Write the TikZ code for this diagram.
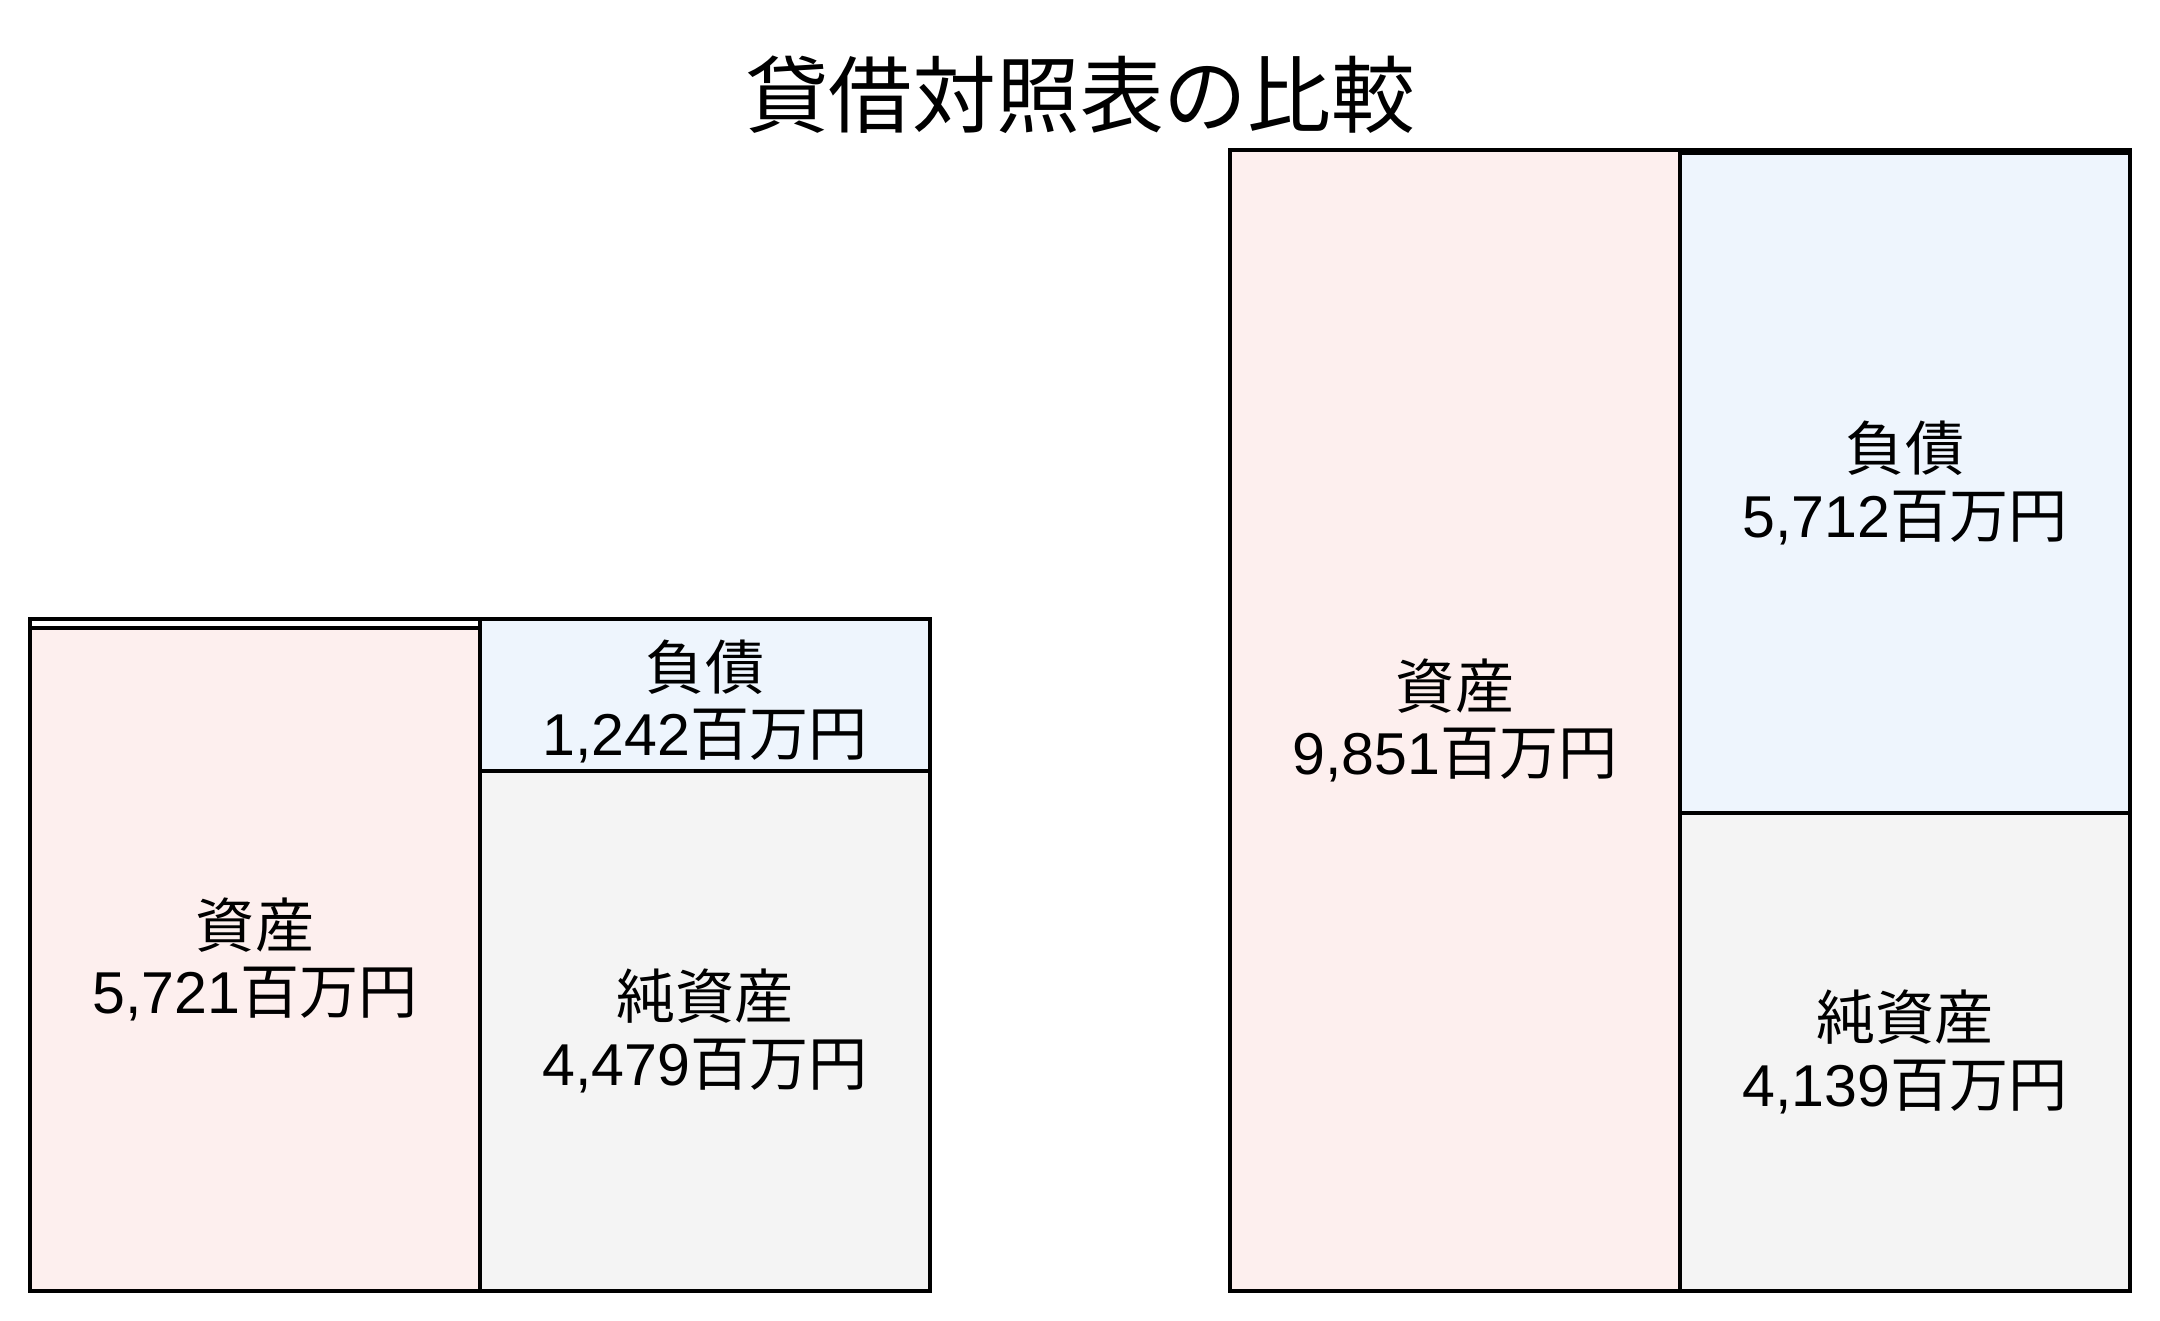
\documentclass[tikz,border=0pt]{standalone}
\usepackage{fontspec}
\setmainfont{Liberation Sans}
\newfontfamily\jp{Noto Sans CJK JP}
\definecolor{assetfill}{HTML}{FDEFEE}
\definecolor{liabfill}{HTML}{EEF5FD}
\definecolor{netfill}{HTML}{F4F4F4}
\tikzset{
  part/.style={draw=black, line width=1.15pt, inner sep=0pt, align=center,
    minimum width=4.5cm, font=\fontsize{16.8pt}{18.8pt}\selectfont},
  outline/.style={draw=black, line width=1.15pt},
}
\begin{document}
\begin{tikzpicture}[x=0.01cm, y=-0.01cm]
\useasboundingbox (0,0) rectangle (2160,1321);
% title
\node (title) at (1080,95) {\fontsize{23.8pt}{28pt}\selectfont\jp 貸借対照表の比較};
% left balance sheet
\node[part, fill=assetfill, minimum height=6.63cm] (lasset) at (255,959.5) {{\jp 資産}\\5,721{\jp 百万円}};
\node[part, fill=liabfill, minimum height=1.52cm] (lliab) at (705,695) {\rule{0pt}{0.62cm}{\jp 負債}\\1,242{\jp 百万円}};
\node[part, fill=netfill, minimum height=5.20cm] (lnet) at (705,1031) {{\jp 純資産}\\4,479{\jp 百万円}};
\draw[outline] (30,619) rectangle (930,1291);
% right balance sheet
\node[part, fill=assetfill, minimum height=11.41cm] (rasset) at (1455,720.5) {{\jp 資産}\\9,851{\jp 百万円}};
\node[part, fill=liabfill, minimum height=6.60cm] (rliab) at (1905,483) {{\jp 負債}\\5,712{\jp 百万円}};
\node[part, fill=netfill, minimum height=4.78cm] (rnet) at (1905,1052) {{\jp 純資産}\\4,139{\jp 百万円}};
\draw[outline] (1230,150) rectangle (2130,1291);
\end{tikzpicture}
\end{document}
